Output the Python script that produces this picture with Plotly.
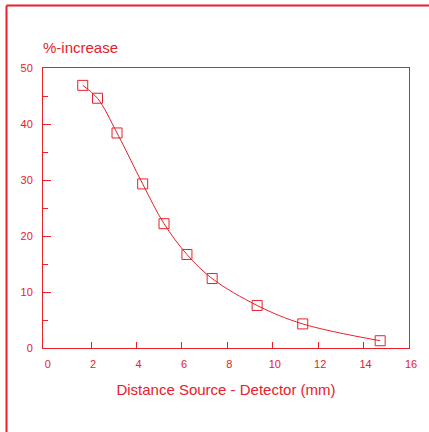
import plotly.graph_objects as go

# Measured increase versus source-detector distance
distance_mm = [1.63, 2.28, 3.14, 4.27, 5.21, 6.22, 7.33, 9.31, 11.32, 14.73]
increase_pct = [46.9, 44.6, 38.4, 29.3, 22.2, 16.7, 12.4, 7.6, 4.3, 1.3]

x_tick_vals = [0, 2, 4, 6, 8, 10, 12, 14, 16]
x_tick_text = ["0", "2", "4", "6", "8", "10", "12", "14", "16"]
y_tick_vals = [0, 10, 20, 30, 40, 50]
y_tick_text = ["0", "10", "20", "30", "40", "50"]

RED = "#e8202a"
FONT = "Liberation Sans, Arial, Helvetica, sans-serif"

fig = go.Figure()

# smooth trend through the measurements
fig.add_trace(go.Scatter(
    x=distance_mm, y=increase_pct, mode="lines",
    line=dict(color=RED, width=1, shape="spline", smoothing=1.0),
    hoverinfo="skip", showlegend=False,
))

# open-square markers
fig.add_trace(go.Scatter(
    x=distance_mm, y=increase_pct, mode="markers",
    marker=dict(symbol="square-open", size=10, color=RED, line=dict(width=1, color=RED)),
    showlegend=False,
))

fig.update_layout(
    width=429, height=432,
    margin=dict(l=43, r=20, t=68, b=84),
    paper_bgcolor="white", plot_bgcolor="white",
    font=dict(family=FONT, color=RED, size=11),
    xaxis=dict(
        range=[-0.12, 16.0],
        tickmode="array", tickvals=x_tick_vals, ticktext=x_tick_text,
        ticks="", showgrid=False, zeroline=False,
        showline=True, linecolor=RED, linewidth=1, mirror=True,
        tickfont=dict(size=11, color=RED),
        ticklabelstandoff=6, ticklabelshift=2,
        minor=dict(tickmode="array", tickvals=[2, 4, 6, 8, 10, 12, 14],
                   ticks="inside", ticklen=6, tickcolor=RED, tickwidth=1, showgrid=False),
        title=dict(text="Distance Source - Detector (mm)",
                   font=dict(size=15, color=RED), standoff=15),
        fixedrange=True,
    ),
    yaxis=dict(
        range=[0, 50],
        tickmode="array", tickvals=y_tick_vals, ticktext=y_tick_text,
        ticks="inside", ticklen=8, tickcolor=RED, tickwidth=1,
        showgrid=False, zeroline=False,
        showline=True, linecolor=RED, linewidth=1, mirror=True,
        tickfont=dict(size=11, color=RED),
        ticklabelstandoff=7,
        minor=dict(dtick=5, tick0=0, ticks="inside", ticklen=5,
                   tickcolor=RED, tickwidth=1, showgrid=False),
        fixedrange=True,
    ),
    annotations=[dict(
        text="%-increase", xref="paper", yref="paper",
        x=-0.005, y=1.072, xanchor="left", yanchor="middle",
        showarrow=False, font=dict(size=15, color=RED, family=FONT),
    )],
    shapes=[
        # outer frame: top edge and left edge
        dict(type="line", xref="paper", yref="paper",
             x0=-0.0997, x1=1.06, y0=1.2232, y1=1.2232,
             line=dict(color=RED, width=2)),
        dict(type="line", xref="paper", yref="paper",
             x0=-0.0997, x1=-0.0997, y0=1.2232, y1=-0.31,
             line=dict(color=RED, width=2)),
    ],
)

fig.write_html("out.html")
